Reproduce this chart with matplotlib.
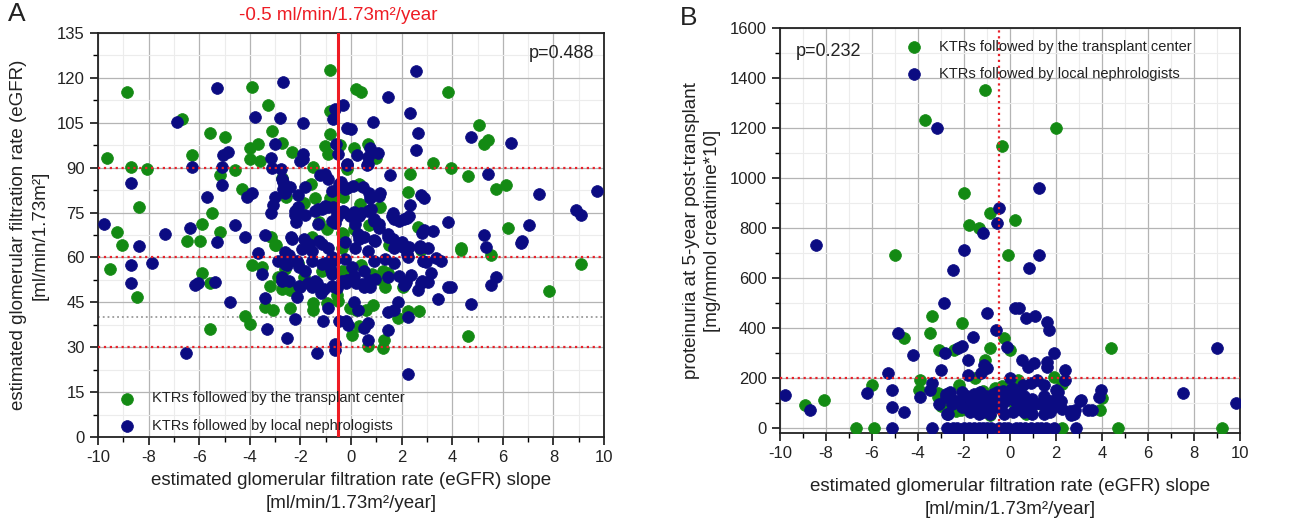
import numpy as np
import matplotlib
matplotlib.use('Agg')
import matplotlib.pyplot as plt
from matplotlib.ticker import MultipleLocator

plt.rcParams['font.family'] = ['Liberation Sans', 'DejaVu Sans']
plt.rcParams['axes.unicode_minus'] = False

# ---------------------
# Panel A data: eGFR slope vs eGFR
# ---------------------
a_green = [
    (-0.82, 122.8), (-8.85, 115.2), (-3.9, 116.9), (-3.3, 110.8), (-6.67, 106.2), (-5.59, 101.7),
    (-5.0, 100.4), (-3.11, 102.4), (-2.71, 98.3), (-3.68, 98), (-4.0, 96.7), (-4.0, 92.8),
    (-3.58, 92.2), (-2.32, 95.4), (-0.82, 109.1), (-0.82, 101.3), (-1.04, 97.1), (-0.91, 94.4),
    (-0.43, 97.7), (-9.64, 93.3), (-8.68, 90.2), (-8.06, 89.4), (-6.27, 94.2), (-5.18, 87.6),
    (-4.6, 89.1), (-1.5, 90.2), (-2.71, 86.7), (-4.3, 83), (-2.56, 80.2), (-1.6, 84.7),
    (-1.42, 80), (-0.6, 80.2), (-0.3, 80.2), (-8.37, 76.9), (-5.48, 74.9), (-5.88, 71.3),
    (-9.25, 68.6), (-9.05, 64.1), (-6.48, 65.4), (-5.97, 65.4), (-5.17, 68.6), (-3.15, 66.9),
    (-2.98, 64.3), (-0.3, 68),
    (0.2, 116.3), (0.4, 115.2), (3.85, 115.4), (5.05, 104.3), (5.24, 98), (5.43, 99.4),
    (3.25, 91.7), (3.95, 89.9), (4.64, 87.2), (2.35, 87.8), (5.73, 83), (6.13, 84.1),
    (2.27, 81.9), (1.16, 76.9), (6.22, 69.9), (0.66, 97.8), (0.1, 96.7), (0.99, 93.3),
    (0.37, 84.1), (2.64, 70.2), (4.35, 63), (0.72, 70.8), (1.52, 64.1),
    (-9.54, 56.3), (-8.46, 46.9), (-5.88, 54.7), (-5.59, 51.6), (-5.59, 36), (-3.9, 57.4),
    (-3.5, 56.7), (-3.21, 50.6), (-2.89, 53.3), (-3.41, 43.6), (-3.08, 42.4), (-4.2, 40.4),
    (-3.99, 37.8), (-2.41, 43), (-2.42, 49.1), (-1.5, 44.7), (-1.5, 42.4), (-0.94, 44.7),
    (-0.51, 45.4), (-0.55, 47.4), (-0.25, 55.2), (0.05, 34.1), (-3.02, 64.1), (-0.05, 43),
    (-2.09, 58), (-0.3, 54.7),
    (4.35, 62.4), (5.53, 60.8), (9.1, 57.7), (7.83, 48.9), (4.64, 33.9), (2.67, 42.2),
    (2.24, 42.2), (1.84, 39.7), (1.32, 32.4), (1.25, 29.7), (0.66, 30.4), (0.33, 37.1),
    (0.86, 44.1), (0.59, 42.4), (0.2, 42.4), (2.04, 50.2), (0.4, 57.4), (1.45, 54.7),
    (1.55, 64.1), (2.1, 63.6), (2.77, 62.4),
    (-0.16, 89.4), (0.3, 84.4), (-1.87, 78.3), (0.36, 77.8), (-0.82, 80), (-1.28, 71.7),
    (-0.95, 69.4), (-0.36, 68.3), (0.1, 69.4), (-1.54, 66.7), (-0.36, 63), (1.28, 55.6),
    (-2.6, 56.1), (-1.15, 55.6), (-0.36, 55.6), (0.82, 54.4), (1.35, 50), (-2.73, 49.4),
    (-1.87, 53.3), (1.09, 52.8),
]

a_blue = [
    (-2.7, 118.7), (-5.28, 116.6), (-6.89, 105.1), (-3.81, 106.9), (-2.82, 106.7), (-1.91, 105),
    (-0.3, 110.9), (-0.62, 109.6), (-0.71, 106.3), (-0.15, 103.2), (-3.02, 97.8), (-1.91, 94.4),
    (-1.91, 92.8), (-0.58, 98), (-0.51, 94.7), (-5.06, 94.3), (-4.87, 95.2), (-3.18, 93.3),
    (-6.27, 90.2), (-5.09, 90.2), (-3.11, 90), (-2.78, 89.4), (-0.15, 91.1), (-8.68, 84.9),
    (-5.09, 84.2), (-2.69, 85.2), (-2.69, 83), (-2.42, 83.6), (-1.8, 83.6), (-1.21, 87.4),
    (-1.04, 88), (-0.91, 86.1), (-0.41, 85.2), (-0.15, 83.3), (-5.68, 80.2), (-4.11, 80.2),
    (-3.9, 81.6), (-2.09, 81), (-2.99, 80.2), (-3.08, 77.4), (-3.15, 74.7), (-2.09, 76.9),
    (-2.23, 74.1), (-1.83, 74.1), (-2.16, 71.9), (-1.3, 76.3), (-1.04, 77.1), (-0.71, 76.9),
    (-0.28, 75.2), (-0.54, 73.6), (-0.62, 71.6), (-1.3, 71.3), (-9.76, 71.3), (-7.36, 68),
    (-6.38, 69.7), (-4.6, 70.8), (-3.41, 67.4), (-4.2, 66.9), (-5.3, 65.2), (-8.38, 63.9),
    (-2.36, 66.9),
    (2.57, 122.2), (1.48, 113.6), (2.35, 108.4), (0.87, 105.3), (2.65, 101.7), (2.56, 95.8),
    (4.74, 100.2), (6.34, 98.1), (0.0, 103), (0.24, 94.1), (0.66, 93.6), (1.05, 94.9),
    (0.76, 96.7), (0.66, 91.3), (1.55, 87.4), (5.43, 88), (7.43, 81.3), (9.71, 82.1),
    (8.9, 75.8), (9.09, 74.1), (0.46, 83.4), (0.72, 81.6), (1.16, 81.6), (2.77, 80.8),
    (2.87, 79.7), (2.35, 77.4), (0.79, 76.3), (0.07, 84), (0.13, 75.2), (0.4, 74.9),
    (1.65, 74.9), (3.82, 71.9), (7.05, 71), (5.24, 67.4), (6.75, 65.4), (1.71, 72.9),
    (2.11, 72.9), (2.31, 74), (0.92, 72.9), (1.12, 71.1), (1.45, 67.8), (1.65, 66.1),
    (2.04, 63.6), (2.87, 69.2), (3.25, 68.9), (2.74, 63.7), (3.06, 63.1), (5.34, 63.6),
    (0.26, 68), (0.53, 66.9), (0.92, 65.8),
    (-8.68, 57.4), (-7.87, 58.2), (-8.68, 51.6), (-6.18, 50.8), (-6.05, 51.3), (-5.39, 51.9),
    (-4.8, 45.2), (-3.68, 61.6), (-3.5, 54.4), (-2.89, 58.9), (-2.56, 61.3), (-2.46, 60.8),
    (-2.52, 57.4), (-2.73, 52.2), (-2.46, 52.2), (-3.39, 46.3), (-3.31, 36), (-2.52, 33),
    (-2.21, 39.3), (-2.12, 46.9), (-2.0, 50.2), (-1.7, 51.6), (-1.8, 55.6), (-2.12, 58.9),
    (-1.33, 51.3), (-1.2, 48), (-1.07, 49.3), (-0.91, 43), (-1.11, 38.6), (-1.33, 28),
    (-0.62, 31.1), (-0.62, 29.1), (-6.51, 28.2), (-0.54, 49.7), (-0.18, 51.3), (-0.15, 52.4),
    (-0.49, 38.6), (-0.18, 38.6), (-0.12, 37.4), (-1.04, 58), (-0.78, 55.8), (-0.65, 59.1),
    (6.72, 64.7), (3.36, 59.7), (3.56, 58.9), (2.96, 58.6), (3.16, 54.7), (2.37, 54.1),
    (5.73, 53.6), (5.53, 50.8), (3.82, 50.2), (3.95, 50.2), (3.45, 46), (4.74, 44.4),
    (3.03, 51.9), (2.77, 51.3), (2.64, 49.1), (2.17, 51.9), (2.11, 50.8), (1.84, 45.2),
    (1.71, 42.4), (1.45, 41.9), (2.27, 40), (1.48, 35.8), (0.66, 38), (0.53, 36.3),
    (0.66, 32.4), (2.27, 21.1), (0.13, 45.2), (0.26, 42.4), (0.2, 51.3), (0.53, 50.2),
    (0.72, 52.4), (2.31, 63.6),
    (-2.0, 92.2), (-0.16, 90.9), (0.63, 90.9), (-2.73, 86.1), (-2.6, 81.7), (-0.76, 82.2),
    (-0.49, 84.4), (-0.23, 82.8), (0.76, 80), (1.09, 80.6), (-2.2, 75.6), (-1.41, 75.6),
    (-1.15, 76.1), (-0.89, 76.7), (-0.56, 74.4), (-0.3, 75.6), (-0.04, 73.9), (0.3, 73.9),
    (0.69, 75.6), (0.89, 72.2), (1.09, 70), (1.61, 73.9), (1.88, 72.2), (2.2, 73.3),
    (-0.76, 72.2), (0.17, 71.1), (-2.33, 66.1), (-1.87, 66.1), (-1.67, 64.4), (-1.28, 65.6),
    (-1.15, 64.4), (-0.89, 63.3), (-0.23, 65), (0.3, 66.1), (0.17, 63.3), (0.69, 62.2),
    (0.96, 65.6), (1.48, 66.7), (1.68, 63.3), (2.01, 65), (2.2, 61.1), (2.8, 68.3),
    (2.73, 63.3), (-2.6, 61.7), (-1.94, 62.8), (-1.54, 62.2), (-2.6, 57.8), (-2.07, 56.7),
    (-1.54, 58.9), (-1.15, 57.8), (-0.76, 60), (-0.23, 59.4), (0.04, 56.7), (0.5, 55.6),
    (0.89, 58.9), (1.35, 59.4), (1.68, 58.3), (2.27, 60), (2.86, 58.9), (-2.73, 53.3),
    (-2.07, 50.6), (-1.41, 52.2), (-0.76, 54.4), (-0.36, 52.2), (0.1, 53.9), (0.43, 51.1),
    (0.96, 52.8), (1.48, 53.3), (1.88, 53.9), (2.14, 51.1), (2.8, 52.2), (-1.54, 50),
    (-0.76, 50.6), (0.76, 50),
]

# ---------------------
# Panel B data: eGFR slope vs proteinuria
# ---------------------
b_green = [
    (-1.08, 1351), (-3.68, 1231), (2.02, 1200), (-0.36, 1129), (-1.99, 940), (-0.86, 860),
    (0.23, 831), (-1.77, 811), (-1.36, 800), (-4.98, 692), (-0.08, 692),
    (-3.39, 449), (-4.6, 360), (-3.5, 380), (-2.1, 420), (-3.09, 313), (-2.43, 311),
    (-0.89, 320), (-1.07, 273), (-1.52, 200), (-0.28, 360), (0.0, 311), (0.36, 193),
    (-3.9, 191), (-3.97, 153), (-6.0, 171), (-8.93, 93), (-8.1, 111), (-6.69, 0),
    (-5.9, 0), (2.28, 0), (4.71, 0), (9.21, 0), (4.4, 320), (3.92, 71), (4.0, 120),
    (1.93, 204), (2.26, 177), (-2.23, 173), (-3.14, 140), (-2.98, 87), (-0.89, 53),
    (1.32, 100), (-0.66, 160), (-0.33, 167), (0.17, 100), (0.83, 60), (-2.15, 73),
    (-1.9, 100), (-1.16, 150), (-0.63, 157), (0.42, 89), (0.68, 56), (1.34, 96),
    (-2.34, 69), (-2.87, 89), (-1.88, 110), (-3.13, 123), (-2.6, 96),
]

b_blue = [
    (-3.18, 1200), (1.24, 960), (-0.46, 880), (-0.56, 820), (-1.18, 780), (-8.42, 733),
    (-1.99, 711), (1.24, 692), (-2.48, 631), (0.83, 641),
    (-2.87, 501), (-1.02, 460), (0.21, 480), (0.41, 480), (0.69, 440), (1.09, 449),
    (1.59, 423), (1.71, 391), (-0.61, 391), (-0.12, 324), (-1.59, 363), (-4.89, 380),
    (-2.81, 300), (-2.28, 320), (-2.07, 329), (-4.21, 291), (0.5, 273), (1.9, 300),
    (0.78, 244), (1.03, 260), (1.59, 263), (1.59, 244), (-1.82, 273), (-1.12, 253),
    (-1.02, 240), (-1.24, 220), (-1.82, 213), (-3.01, 233), (-5.29, 220), (2.4, 233),
    (2.4, 193), (9.01, 320), (7.52, 140), (9.83, 100), (-9.8, 131), (-8.71, 71),
    (-6.2, 140), (-5.11, 153), (-5.11, 83), (-4.6, 63), (-3.9, 124), (-3.39, 180),
    (-3.47, 153),
    (-5.11, 0), (-3.39, 0), (-2.73, 0), (-2.31, 0), (-1.98, 0), (-1.57, 0), (-1.16, 0),
    (-0.83, 0), (-0.5, 0), (-0.25, 0), (0.25, 0), (0.66, 0), (0.91, 0), (1.16, 0),
    (1.57, 0), (1.9, 0), (2.89, 0), (-2.5, 0), (-1.8, 0), (-1.35, 0), (-1.0, 0),
    (-0.1, 0), (0.45, 0), (1.35, 0),
    (3.97, 153), (3.88, 124), (3.1, 111), (3.38, 73), (3.55, 73), (2.81, 71), (2.64, 53),
    (1.98, 153), (1.49, 173), (1.16, 193), (0.91, 180), (0.58, 173), (0.0, 200), (0.08, 160),
    (-3.09, 96), (-2.69, 56), (-2.8, 137), (-2.53, 116),
    (-0.3, 150), (-0.76, 137), (-0.57, 143), (-1.29, 143), (-1.55, 137), (-2.08, 143),
    (-1.88, 130), (-2.61, 143), (-2.8, 123), (-2.54, 96), (-2.74, 56), (-2.21, 110),
    (-2.08, 83), (-1.68, 110), (-1.55, 89), (-1.29, 116), (-1.16, 96), (-1.03, 130),
    (-0.83, 110), (-0.76, 83), (-0.43, 123), (-0.24, 103), (-0.37, 76), (-0.11, 137),
    (0.09, 116), (0.29, 137), (0.42, 110), (0.62, 130), (0.75, 89), (0.95, 116),
    (1.08, 96), (1.47, 130), (1.41, 96), (1.74, 110), (2.0, 116), (2.07, 143),
    (2.2, 110), (2.26, 76), (2.59, 69), (2.79, 56), (3.05, 110), (-1.16, 63),
    (-0.89, 56), (-0.24, 56), (0.62, 63), (0.95, 56), (1.47, 56), (1.74, 63),
    (1.87, 83), (0.12, 63), (0.37, 76), (0.3, 96), (-1.75, 63), (-1.36, 56),
]

slope_cut = -0.5
egfr_lines = [30, 60, 90]
prot_line = 200
p_a = 'p=0.488'
p_b = 'p=0.232'
lbl_green = 'KTRs followed by the transplant center'
lbl_blue = 'KTRs followed by local nephrologists'

GREEN = '#138a13'
BLUE = '#0b0b82'
TXT = '#222222'
MS = 72


def style_axes(ax, xmaj, xmin, ymaj, ymin):
    ax.xaxis.set_major_locator(MultipleLocator(xmaj))
    ax.xaxis.set_minor_locator(MultipleLocator(xmin))
    ax.yaxis.set_major_locator(MultipleLocator(ymaj))
    ax.yaxis.set_minor_locator(MultipleLocator(ymin))
    ax.grid(which='major', color='#b4b4b4', lw=0.9, zorder=0)
    ax.grid(which='minor', color='#ececec', lw=0.8, zorder=0)
    ax.set_axisbelow(True)
    ax.tick_params(which='major', direction='out', length=6, width=1.1,
                   labelsize=12, labelcolor=TXT)
    ax.tick_params(which='minor', direction='out', length=3.5, width=1.0)
    for s in ax.spines.values():
        s.set_linewidth(1.3)
        s.set_color('#222222')


fig = plt.figure(figsize=(13.01, 5.26), dpi=100)

# ---------------------
# Panel A
# ---------------------
axA = fig.add_axes([98 / 1301, 1 - 437 / 526, 506 / 1301, 404 / 526])
style_axes(axA, 2, 1, 15, 7.5)
axA.set_xlim(-10, 10)
axA.set_ylim(0, 135)
ga = np.array(a_green)
ba = np.array(a_blue)
hg = axA.scatter(ga[:, 0], ga[:, 1], s=MS, color=GREEN, edgecolors=GREEN, lw=0.5, zorder=3)
hb = axA.scatter(ba[:, 0], ba[:, 1], s=MS, color=BLUE, edgecolors=BLUE, lw=0.5, zorder=3)
axA.axhline(40, color='#9a9a9a', ls=':', lw=1.3, zorder=1)
for yv in egfr_lines:
    axA.axhline(yv, color='#e8212a', ls=':', lw=1.6, zorder=4)
axA.axvline(slope_cut, color='#ee1c24', lw=2.2, zorder=5)
axA.text(slope_cut, 138, '-0.5 ml/min/1.73m²/year', color='#ee1c24', fontsize=13.5,
         ha='center', va='bottom')
axA.text(9.6, 131, p_a, fontsize=13, ha='right', va='top', color=TXT)
axA.set_xlabel('estimated glomerular filtration rate (eGFR) slope\n[ml/min/1.73m²/year]',
               fontsize=13.5, color=TXT, linespacing=1.45, labelpad=5)
axA.set_ylabel('estimated glomerular filtration rate (eGFR)\n[ml/min/1.73m²]',
               fontsize=13.5, color=TXT, linespacing=1.35, labelpad=6)
axA.legend([hg, hb], [lbl_green, lbl_blue], loc='lower left',
           bbox_to_anchor=(0.0, -0.025), frameon=False,
           fontsize=10.5, handletextpad=0.7, borderaxespad=0.6, labelspacing=0.9,
           scatterpoints=1, labelcolor=TXT)
fig.text(8 / 1301, 1 - 14 / 526, 'A', fontsize=19, va='center', ha='left', color=TXT)

# ---------------------
# Panel B
# ---------------------
axB = fig.add_axes([780 / 1301, 1 - 433 / 526, 460 / 1301, 405 / 526])
style_axes(axB, 2, 1, 200, 100)
axB.set_xlim(-10, 10)
axB.set_ylim(-20, 1600)
gb = np.array(b_green)
bb = np.array(b_blue)
hg2 = axB.scatter(gb[:, 0], gb[:, 1], s=MS, color=GREEN, edgecolors=GREEN, lw=0.5, zorder=3)
hb2 = axB.scatter(bb[:, 0], bb[:, 1], s=MS, color=BLUE, edgecolors=BLUE, lw=0.5, zorder=3)
axB.axhline(prot_line, color='#e8212a', ls=':', lw=1.6, zorder=4)
axB.axvline(slope_cut, color='#e8212a', ls=':', lw=1.6, zorder=4)
axB.text(-9.3, 1540, p_b, fontsize=13, ha='left', va='top', color=TXT)
axB.set_xlabel('estimated glomerular filtration rate (eGFR) slope\n[ml/min/1.73m²/year]',
               fontsize=13.5, color=TXT, linespacing=1.45, labelpad=12)
axB.set_ylabel('proteinuria at 5-year post-transplant\n[mg/mmol creatinine*10]',
               fontsize=13.5, color=TXT, linespacing=1.35, labelpad=6)
axB.legend([hg2, hb2], [lbl_green, lbl_blue], loc='upper left',
           bbox_to_anchor=(0.235, 1.0), frameon=False, fontsize=10.5,
           handletextpad=0.7, borderaxespad=0.4, labelspacing=0.9,
           scatterpoints=1, labelcolor=TXT)
fig.text(680 / 1301, 1 - 18 / 526, 'B', fontsize=19, va='center', ha='left', color=TXT)

fig.savefig('out.png', dpi=100)
